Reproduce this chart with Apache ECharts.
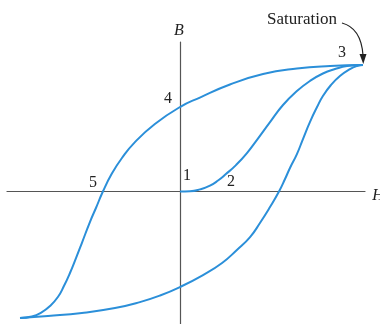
<!DOCTYPE html>
<html>
<head>
<meta charset="utf-8">
<style>
  html, body { margin: 0; padding: 0; background: #fff; }
  #chart { width: 380px; height: 324px; }
</style>
<script src="https://cdn.jsdelivr.net/npm/echarts@6/dist/echarts.min.js"></script>
</head>
<body>
<div id="chart"></div>
<script>
// Hysteresis loop: magnetic flux density B versus field strength H (normalized to saturation).

// Descending branch: from positive saturation (3) through remanence (4) and coercivity (5) to negative saturation
const upperH = [1.000, 0.820, 0.639, 0.454, 0.273, 0.109, 0.000, -0.137, -0.246, -0.317, -0.372, -0.421, -0.459, -0.492, -0.536, -0.568, -0.601, -0.634, -0.667, -0.710, -0.754, -0.809, -0.874];
const upperB = [1.000, 0.992, 0.972, 0.929, 0.846, 0.743, 0.668, 0.534, 0.391, 0.265, 0.142, 0.000, -0.130, -0.241, -0.407, -0.526, -0.644, -0.747, -0.834, -0.905, -0.953, -0.988, -1.000];

// Ascending branch: from negative saturation back up to positive saturation
const lowerH = [-0.874, -0.721, -0.536, -0.355, -0.219, -0.109, 0.000, 0.126, 0.230, 0.311, 0.383, 0.437, 0.492, 0.541, 0.574, 0.601, 0.639, 0.672, 0.710, 0.749, 0.781, 0.825, 0.874, 0.929, 0.967, 1.000];
const lowerB = [-1.000, -0.984, -0.960, -0.921, -0.874, -0.822, -0.755, -0.660, -0.565, -0.462, -0.360, -0.249, -0.123, 0.000, 0.099, 0.186, 0.296, 0.415, 0.549, 0.668, 0.755, 0.842, 0.913, 0.968, 0.992, 1.000];

// Initial magnetization curve: 1 -> 2 -> 3
const initH = [0.000, 0.055, 0.109, 0.164, 0.208, 0.251, 0.306, 0.366, 0.426, 0.492, 0.563, 0.639, 0.710, 0.781, 0.847, 0.913, 1.000];
const initB = [0.000, 0.002, 0.017, 0.047, 0.087, 0.138, 0.209, 0.304, 0.419, 0.549, 0.684, 0.794, 0.874, 0.933, 0.968, 0.992, 1.000];

// Numbered points on the curves
const pointNames = ['1', '2', '3', '4', '5'];
const pointH = [0.000, 0.251, 1.000, 0.000, -0.421];
const pointB = [0.000, 0.138, 1.000, 0.668, 0.000];

const axisNames = ['H', 'B'];
const saturationText = 'Saturation';

const zip = (xs, ys) => xs.map((x, i) => [x, ys[i]]);

const curveColor = '#2b8fd9';
const axisColor = '#555';
const serif = '"Liberation Serif", "DejaVu Serif", serif';

const chart = echarts.init(document.getElementById('chart'), null, { renderer: 'canvas' });

const lineStyle = { color: curveColor, width: 2 };
const curve = (data) => ({
  type: 'line',
  data: data,
  smooth: 0.5,
  showSymbol: false,
  symbol: 'none',
  lineStyle: lineStyle,
  silent: true,
  clip: false
});

chart.setOption({
  animation: false,
  grid: { left: 7, right: 15, top: 42, bottom: 0, containLabel: false },
  xAxis: {
    type: 'value', min: -0.945, max: 1.011,
    axisLine: { onZero: true, lineStyle: { color: axisColor, width: 1.2 } },
    axisTick: { show: false }, axisLabel: { show: false }, splitLine: { show: false }
  },
  yAxis: {
    type: 'value', min: -1.047, max: 1.182,
    axisLine: { onZero: true, lineStyle: { color: axisColor, width: 1.2 } },
    axisTick: { show: false }, axisLabel: { show: false }, splitLine: { show: false }
  },
  series: [
    curve(zip(upperH, upperB)),
    curve(zip(lowerH, lowerB)),
    curve(zip(initH, initB))
  ]
});

// Annotations placed relative to the data points they describe
const px = (h, b) => chart.convertToPixel({ gridIndex: 0 }, [h, b]);
const labelOffsets = [[7, -16], [5, 8], [-21, -12], [-12, -8], [-10, -9]];
const textStyle = (txt, extra) => Object.assign({
  text: txt, font: '16px ' + serif, fill: '#222', textAlign: 'center', textVerticalAlign: 'middle'
}, extra || {});

const graphics = [];
pointNames.forEach((name, i) => {
  const p = px(pointH[i], pointB[i]);
  graphics.push({
    type: 'text', x: p[0] + labelOffsets[i][0], y: p[1] + labelOffsets[i][1],
    style: textStyle(name), silent: true
  });
});

// Axis titles
const xEnd = px(1.011, 0);
graphics.push({ type: 'text', x: xEnd[0] + 13, y: xEnd[1] + 4,
  style: textStyle(axisNames[0], { font: 'italic 16px ' + serif }), silent: true });
const yTop = px(0, 1.182);
graphics.push({ type: 'text', x: yTop[0] - 1, y: yTop[1] - 11,
  style: textStyle(axisNames[1], { font: 'italic 16px ' + serif }), silent: true });

// Saturation callout with a curved arrow pointing at the saturation point
const sat = px(pointH[2], pointB[2]);
graphics.push({ type: 'text', x: sat[0] - 61, y: sat[1] - 45,
  style: textStyle(saturationText, { font: '17px ' + serif }), silent: true });
graphics.push({
  type: 'bezierCurve',
  shape: { x1: sat[0] - 21, y1: sat[1] - 42, cpx1: sat[0] - 2, cpy1: sat[1] - 37, x2: sat[0], y2: sat[1] - 10 },
  style: { stroke: '#222', lineWidth: 1.2, fill: null }, silent: true
});
graphics.push({
  type: 'polygon',
  shape: { points: [[sat[0] - 3.5, sat[1] - 11], [sat[0] + 3.5, sat[1] - 11], [sat[0] + 0.3, sat[1] - 1]] },
  style: { fill: '#222' }, silent: true
});

chart.setOption({ graphic: graphics });
</script>
</body>
</html>
